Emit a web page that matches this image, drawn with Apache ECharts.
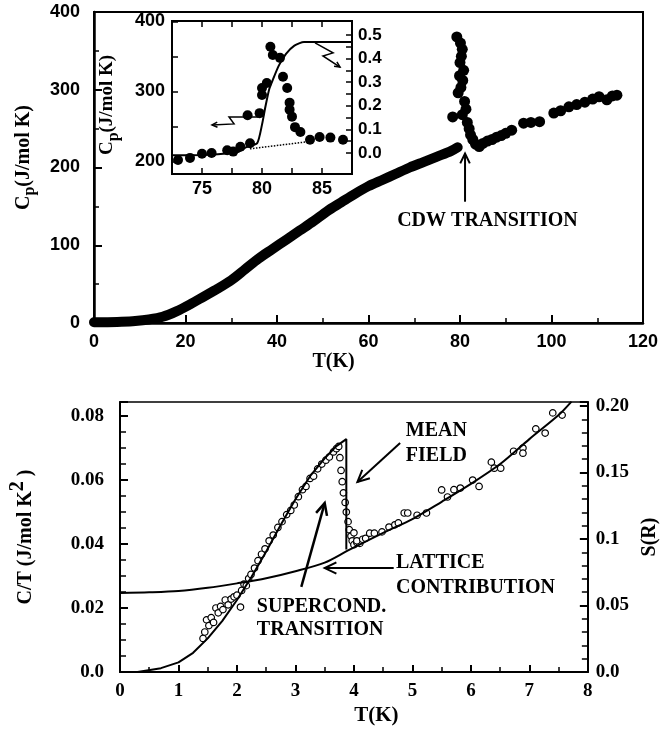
<!DOCTYPE html>
<html>
<head>
<meta charset="utf-8">
<script src="https://cdn.jsdelivr.net/npm/echarts@6/dist/echarts.min.js"></script>
<style>
html, body { margin: 0; padding: 0; background: #fff; }
#main { width: 668px; height: 733px; }
</style>
</head>
<body>
<div id="main"></div>
<script>
var SERIF = '"Liberation Serif", "DejaVu Serif", serif';
var SANS = '"Liberation Sans", Arial, sans-serif';

// top panel: Cp(T), dense band below the transition
var bandT  = [0, 3, 6, 9, 12, 15, 18, 21, 24, 27, 30, 33, 36, 39, 42, 45, 48, 51, 54, 57, 60, 63, 66, 69, 72, 75, 78, 79.5];
var bandCp = [1, 1, 1.5, 2.5, 4.5, 8, 15, 24, 34, 44, 55, 69, 83, 95, 107, 119, 131, 144, 155, 166, 176, 184, 192, 200, 207, 214, 221, 226];
// points of the CDW anomaly
var peakT  = [79.3, 80.1, 80.5, 80.3, 80.0, 80.8, 79.9, 80.6, 80.2, 79.6, 81.0, 78.4, 80.5, 81.3, 81.6, 82.0, 82.3, 82.8, 83.4, 84.2];
var peakCp = [368, 360, 352, 343, 335, 325, 318, 312, 303, 296, 285, 265, 268, 275, 258, 250, 242, 236, 230, 227];
// points above the transition
var postT  = [85.0, 86.0, 87.0, 88.0, 89.0, 90.0, 91.3, 93.9, 95.5, 97.4, 100.5, 102.0, 103.8, 105.5, 107.3, 109.0, 110.4, 112.1, 113.3, 114.3];
var postCp = [231, 234, 236, 239, 241, 244, 248, 257, 258, 259, 270, 273, 278, 281, 284, 288, 291, 287, 292, 293];

// inset
var insetT  = [73.0, 74.0, 75.0, 75.8, 77.1, 77.6, 78.2, 79.0, 78.8, 79.8, 80.0, 80.4, 80.0, 80.7, 80.9, 81.5, 81.75, 82.1, 82.3, 82.3, 82.5, 82.75, 83.2, 84.0, 84.8, 85.7, 86.75];
var insetCp = [202, 205, 211, 212, 216, 214, 221, 226, 266, 269, 305, 312, 295, 364, 352, 348, 321, 305, 284, 274, 264, 249, 242, 231, 235, 234, 231];
var stepT = [72.5, 75.5, 78.0, 78.7, 79.6, 80.0, 80.3, 80.6, 80.9, 81.4, 82.0, 82.7, 83.5, 85.0, 87.5];
var stepS = [-0.01, -0.008, 0.004, 0.025, 0.042, 0.12, 0.2, 0.27, 0.31, 0.37, 0.42, 0.455, 0.47, 0.47, 0.47];
var baseT  = [79.0, 83.75];
var baseCp = [218, 228];

// bottom panel: C/T(T)
var latT = [0, 0.5, 1, 1.5, 2, 2.5, 3, 3.5, 3.9, 4.5, 5, 5.5, 6, 6.5, 7, 7.5, 7.72];
var latC = [0.0247, 0.0249, 0.0253, 0.0263, 0.0277, 0.0293, 0.0315, 0.0342, 0.0380, 0.0435, 0.0478, 0.0532, 0.0588, 0.0650, 0.0728, 0.0803, 0.0845];
var mfT = [0.3, 0.7, 1.0, 1.25, 1.5, 1.75, 2.0, 2.25, 2.5, 2.75, 3.0, 3.25, 3.5, 3.7, 3.87, 3.87];
var mfC = [0, 0.0012, 0.003, 0.006, 0.0105, 0.016, 0.0225, 0.0298, 0.0377, 0.046, 0.054, 0.0612, 0.0668, 0.0706, 0.0728, 0.0383];
var circT = [1.42, 1.45, 1.48, 1.52, 1.56, 1.60, 1.64, 1.68, 1.72, 1.76, 1.80, 1.85, 1.90, 1.95, 2.0, 2.06, 2.08, 2.12, 2.16, 2.2, 2.24, 2.3, 2.36, 2.42, 2.48, 2.55, 2.62, 2.7, 2.77, 2.85, 2.92, 2.98, 3.05, 3.12, 3.18, 3.25, 3.31, 3.38, 3.45, 3.52, 3.58, 3.65, 3.7, 3.74,
  3.76, 3.78, 3.8, 3.82, 3.85, 3.87, 3.9, 3.92, 3.95, 3.97, 4.0, 4.05, 4.1, 4.0, 4.05, 4.15, 4.2,
  4.27, 4.35, 4.48, 4.6, 4.7, 4.76, 4.86, 4.92, 5.08, 5.24, 5.5, 5.6, 5.71, 5.82, 6.03, 6.14, 6.35, 6.4, 6.51, 6.73, 6.89, 6.89, 7.11, 7.27, 7.4, 7.56];
var circC = [0.0105, 0.0125, 0.0163, 0.0145, 0.017, 0.0155, 0.020, 0.0185, 0.0205, 0.0195, 0.0225, 0.021, 0.0228, 0.0235, 0.024, 0.0203, 0.0255, 0.0275, 0.0270, 0.0292, 0.0305, 0.0325, 0.0348, 0.0368, 0.0385, 0.041, 0.0428, 0.0452, 0.047, 0.0492, 0.0505, 0.0522, 0.0548, 0.057, 0.058, 0.0605, 0.0612, 0.0635, 0.065, 0.0662, 0.0672, 0.0688, 0.0698, 0.0705,
  0.067, 0.063, 0.0595, 0.056, 0.053, 0.050, 0.047, 0.0445, 0.0425, 0.041, 0.0398, 0.0405, 0.0402, 0.0435, 0.041, 0.0415, 0.0418,
  0.0434, 0.0434, 0.0438, 0.0453, 0.046, 0.0466, 0.0497, 0.0497, 0.049, 0.0497, 0.0569, 0.0547, 0.057, 0.0575, 0.060, 0.058, 0.0656, 0.0637, 0.0637, 0.069, 0.070, 0.0684, 0.076, 0.0747, 0.081, 0.0803];

// tick labels
var insetRightLabels = ['0.0', '0.1', '0.2', '0.3', '0.4', '0.5'];
var ctLabels = ['0.0', '0.02', '0.04', '0.06', '0.08'];
var sLabels = ['0.0', '0.05', '0.1', '0.15', '0.20'];

// annotations, in data units
var cdwArrow = [[81.1, 156], [81.1, 218]];
var cdwText = [86.0, 132];
var insetArrowL = [[79.67, 263.6], [77.25, 263.6], [77.67, 253.6], [75.83, 252.1]];
var insetArrowR = [[84.42, 0.466], [85.92, 0.424], [85.08, 0.411], [86.5, 0.364]];
var meanArrow = [[4.79, 0.0716], [4.06, 0.0594]];
var meanText = [5.41, 0.0716];
var latArrow = [[4.68, 0.0325], [3.5, 0.0325]];
var latText = [4.72, 0.0302];
var scArrow = [[3.1, 0.0266], [3.5, 0.0528]];
var scText = [2.34, 0.0167];

function zip(a, b) { return a.map(function (v, i) { return [v, b[i]]; }); }

var black = '#000';
function lbl(font, size, extra) {
  var o = { color: black, fontFamily: font, fontWeight: 'bold', fontSize: size };
  for (var k in extra) o[k] = extra[k];
  return o;
}

var myChart = echarts.init(document.getElementById('main'));

myChart.setOption({
  backgroundColor: '#fff',
  animation: false,
  grid: [
    { left: 94, right: 25, top: 12, bottom: 410, show: true, borderColor: black, borderWidth: 2 },
    { left: 172, right: 316, top: 21, bottom: 559, show: true, borderColor: black, borderWidth: 2, backgroundColor: '#fff', z: 3 },
    { left: 115, right: 58, top: 402, bottom: 61, show: true, borderColor: black, borderWidth: 1.5 }
  ],
  xAxis: [
    {
      gridIndex: 0, type: 'value', min: 0, max: 120, interval: 20,
      axisLine: { onZero: false, lineStyle: { color: black, width: 2.5 } },
      axisTick: { inside: true, length: 8, lineStyle: { color: black, width: 2 } },
      minorTick: { show: true, splitNumber: 2, length: 5, lineStyle: { color: black, width: 1.5 } },
      splitLine: { show: false },
      axisLabel: lbl(SANS, 18, { margin: 10 }),
      name: 'T(K)', nameLocation: 'middle', nameGap: 27,
      nameTextStyle: lbl(SERIF, 20, { padding: [0, 70, 0, 0] })
    },
    {
      gridIndex: 1, type: 'value', min: 72.5, max: 87.5, interval: 2.5, z: 4,
      axisLine: { onZero: false, lineStyle: { color: black, width: 2 } },
      axisTick: { inside: true, length: 6, lineStyle: { color: black, width: 1.5 } },
      splitLine: { show: false },
      axisLabel: lbl(SANS, 18, { margin: 6, formatter: function (v) { return v % 5 === 0 ? String(v) : ''; } })
    },
    {
      gridIndex: 1, type: 'value', position: 'top', min: 72.5, max: 87.5, interval: 2.5, z: 4,
      axisLine: { onZero: false, lineStyle: { color: black, width: 2 } },
      axisTick: { inside: true, length: 6, lineStyle: { color: black, width: 1.5 } },
      splitLine: { show: false },
      axisLabel: { show: false }
    },
    {
      gridIndex: 2, type: 'value', min: 0, max: 8, interval: 1,
      axisLine: { onZero: false, lineStyle: { color: black, width: 2 } },
      axisTick: { inside: true, length: 7, lineStyle: { color: black, width: 2 } },
      minorTick: { show: true, splitNumber: 2, length: 5, lineStyle: { color: black, width: 1.5 } },
      splitLine: { show: false },
      axisLabel: lbl(SERIF, 19, { margin: 10 }),
      name: 'T(K)', nameLocation: 'middle', nameGap: 33,
      nameTextStyle: lbl(SERIF, 21, { padding: [0, 0, 0, 45] })
    }
  ],
  yAxis: [
    {
      gridIndex: 0, type: 'value', min: 0, max: 400, interval: 100,
      axisLine: { onZero: false, lineStyle: { color: black, width: 2.5 } },
      axisTick: { inside: true, length: 8, lineStyle: { color: black, width: 2 } },
      minorTick: { show: true, splitNumber: 2, length: 5, lineStyle: { color: black, width: 1.5 } },
      splitLine: { show: false },
      axisLabel: lbl(SANS, 18, { margin: 14 }),
      name: '{n|C}{s|p}{n|(J/mol K)}', nameLocation: 'middle', nameGap: 56,
      nameTextStyle: {
        padding: [0, 0, 0, 20],
        rich: {
          n: lbl(SERIF, 20, {}),
          s: lbl(SERIF, 16, { padding: [12, 0, 0, 0] })
        }
      }
    },
    {
      gridIndex: 1, type: 'value', min: 182, max: 400.7, z: 4,
      axisLine: { onZero: false, lineStyle: { color: black, width: 2 } },
      axisTick: { inside: true, length: 6, lineStyle: { color: black, width: 1.5 }, customValues: [200, 250, 300, 350, 400] },
      splitLine: { show: false },
      axisLabel: lbl(SANS, 18, { margin: 7, customValues: [200, 300, 400] }),
      name: '{n|C}{s|p}{n|(J/mol K)}', nameLocation: 'middle', nameGap: 50,
      nameTextStyle: {
        padding: [0, 15, 0, 0],
        rich: {
          n: lbl(SERIF, 19, {}),
          s: lbl(SERIF, 16, { padding: [14, 0, 0, 0] })
        }
      }
    },
    {
      gridIndex: 1, type: 'value', position: 'right', min: -0.089, max: 0.559, z: 4,
      axisLine: { onZero: false, lineStyle: { color: black, width: 2 } },
      axisTick: { inside: true, length: 6, lineStyle: { color: black, width: 1.5 }, customValues: [0, 0.05, 0.1, 0.15, 0.2, 0.25, 0.3, 0.35, 0.4, 0.45, 0.5] },
      splitLine: { show: false },
      axisLabel: lbl(SANS, 17, {
        margin: 6, customValues: [0, 0.1, 0.2, 0.3, 0.4, 0.5],
        formatter: function (v) { return insetRightLabels[Math.round(v * 10)]; }
      })
    },
    {
      gridIndex: 2, type: 'value', min: 0, max: 0.0844, interval: 0.02,
      axisLine: { onZero: false, lineStyle: { color: black, width: 2 } },
      axisTick: { inside: true, length: 8, lineStyle: { color: black, width: 2 } },
      minorTick: { show: true, splitNumber: 4, length: 6, lineStyle: { color: black, width: 1.5 } },
      splitLine: { show: false },
      axisLabel: lbl(SERIF, 19, { margin: 16, formatter: function (v) { return ctLabels[Math.round(v / 0.02)]; } }),
      name: '{n|C/T (J/mol K}{u|2}{n| )}', nameLocation: 'middle', nameGap: 76,
      nameTextStyle: {
        rich: {
          n: lbl(SERIF, 20, {}),
          u: lbl(SERIF, 20, { padding: [0, 0, 16, 0] })
        }
      }
    },
    {
      gridIndex: 2, type: 'value', position: 'right', min: 0, max: 0.203, interval: 0.05,
      axisLine: { onZero: false, lineStyle: { color: black, width: 2 } },
      axisTick: { inside: true, length: 8, lineStyle: { color: black, width: 2 } },
      minorTick: { show: true, splitNumber: 5, length: 6, lineStyle: { color: black, width: 1.5 } },
      splitLine: { show: false },
      axisLabel: lbl(SERIF, 19, { margin: 8, formatter: function (v) { return sLabels[Math.round(v / 0.05)]; } }),
      name: 'S(R)', nameLocation: 'middle', nameGap: 44,
      nameTextStyle: lbl(SERIF, 20, {})
    }
  ],
  series: [
    {
      type: 'line', xAxisIndex: 0, yAxisIndex: 0, data: zip(bandT, bandCp),
      showSymbol: false, smooth: 0.3, lineStyle: { color: black, width: 10, cap: 'round', join: 'round' }
    },
    {
      type: 'scatter', xAxisIndex: 0, yAxisIndex: 0, data: zip(peakT, peakCp),
      symbolSize: 11, itemStyle: { color: black, opacity: 1 }
    },
    {
      type: 'scatter', xAxisIndex: 0, yAxisIndex: 0, data: zip(postT, postCp),
      symbolSize: 11, itemStyle: { color: black, opacity: 1 }
    },
    {
      type: 'line', xAxisIndex: 1, yAxisIndex: 1, data: zip(baseT, baseCp), z: 5,
      showSymbol: false, lineStyle: { color: black, width: 1.5, type: 'dotted' }
    },
    {
      type: 'scatter', xAxisIndex: 1, yAxisIndex: 1, data: zip(insetT, insetCp), z: 5,
      symbolSize: 10, itemStyle: { color: black, opacity: 1 }
    },
    {
      type: 'line', xAxisIndex: 1, yAxisIndex: 2, data: zip(stepT, stepS), z: 6,
      showSymbol: false, smooth: 0.2, lineStyle: { color: black, width: 2 }
    },
    {
      type: 'scatter', xAxisIndex: 3, yAxisIndex: 3, data: zip(circT, circC),
      symbolSize: 6.5, itemStyle: { color: '#fff', borderColor: black, borderWidth: 1.2, opacity: 1 }
    },
    {
      type: 'line', xAxisIndex: 3, yAxisIndex: 3, data: zip(latT, latC), z: 4,
      showSymbol: false, smooth: 0.3, lineStyle: { color: black, width: 2 }
    },
    {
      type: 'line', xAxisIndex: 3, yAxisIndex: 3, data: zip(mfT, mfC), z: 4,
      showSymbol: false, lineStyle: { color: black, width: 2 }
    }
  ]
});

// annotations placed through the axes
function toPx(xi, yi, p) { return myChart.convertToPixel({ xAxisIndex: xi, yAxisIndex: yi }, p); }
function arrow(xi, yi, pts, width, head) {
  var p = pts.map(function (q) { return toPx(xi, yi, q); });
  var a = p[p.length - 1], b = p[p.length - 2];
  var ang = Math.atan2(b[1] - a[1], b[0] - a[0]);
  var s = 0.45;
  var h1 = [a[0] + head * Math.cos(ang + s), a[1] + head * Math.sin(ang + s)];
  var h2 = [a[0] + head * Math.cos(ang - s), a[1] + head * Math.sin(ang - s)];
  return [
    { type: 'polyline', z: 20, shape: { points: p }, style: { stroke: black, lineWidth: width, fill: null } },
    { type: 'polyline', z: 20, shape: { points: [h1, a, h2] }, style: { stroke: black, lineWidth: width, fill: null } }
  ];
}
function label(xi, yi, p, text, align, lh) {
  var q = toPx(xi, yi, p);
  return {
    type: 'text', z: 20, x: q[0], y: q[1],
    style: { text: text, fill: black, font: 'bold 20px ' + SERIF, align: align, verticalAlign: 'middle', lineHeight: lh }
  };
}

var g = [];
g = g.concat(arrow(0, 0, cdwArrow, 2, 11));
g.push(label(0, 0, cdwText, 'CDW TRANSITION', 'center', 22));
g = g.concat(arrow(1, 1, insetArrowL, 1.5, 6));
g = g.concat(arrow(1, 2, insetArrowR, 1.5, 6));
g = g.concat(arrow(3, 3, meanArrow, 2, 13));
g.push(label(3, 3, meanText, 'MEAN\nFIELD', 'center', 25));
g = g.concat(arrow(3, 3, latArrow, 2, 13));
g.push(label(3, 3, latText, 'LATTICE\nCONTRIBUTION', 'left', 25));
g = g.concat(arrow(3, 3, scArrow, 2.5, 13));
g.push(label(3, 3, scText, 'SUPERCOND.\nTRANSITION', 'left', 23));

myChart.setOption({ graphic: g });
</script>
</body>
</html>
